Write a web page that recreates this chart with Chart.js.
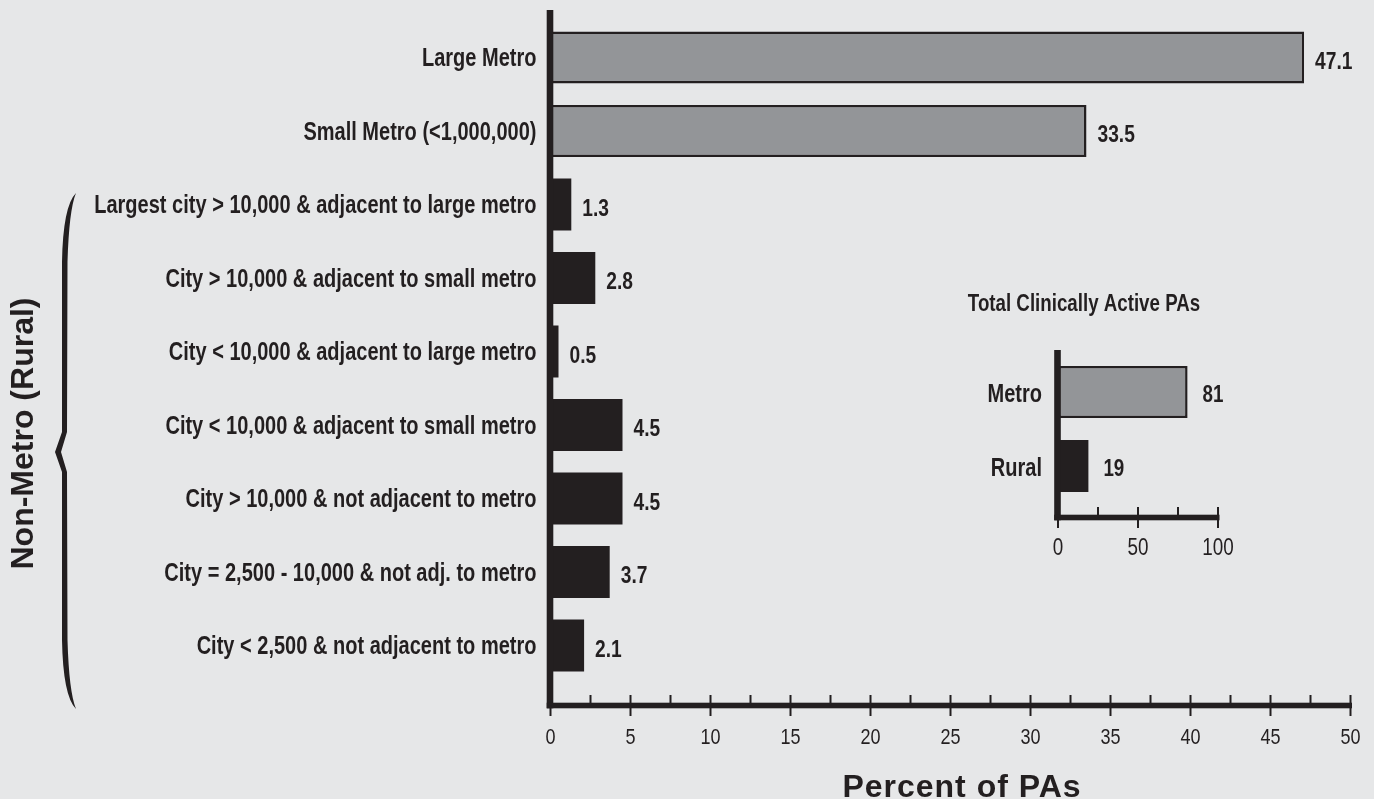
<!DOCTYPE html>
<html>
<head>
<meta charset="utf-8">
<title>Percent of PAs by location</title>
<script src="https://cdn.jsdelivr.net/npm/chart.js@4.4.1/dist/chart.umd.min.js"></script>
<style>
  html, body { margin: 0; padding: 0; background: #e6e7e8; overflow: hidden; }
  #wrap { position: relative; width: 1374px; height: 799px; }
  #mainChart { position: absolute; left: 0; top: 0; }
  #insetChart { position: absolute; left: 960px; top: 280px; }
</style>
</head>
<body>
<div id="wrap">
  <canvas id="mainChart" width="1374" height="799"></canvas>
  <canvas id="insetChart" width="280" height="290"></canvas>
</div>
<script>
// data
const categories = [
  'Large Metro',
  'Small Metro (<1,000,000)',
  'Largest city > 10,000 & adjacent to large metro',
  'City > 10,000 & adjacent to small metro',
  'City < 10,000 & adjacent to large metro',
  'City < 10,000 & adjacent to small metro',
  'City > 10,000 & not adjacent to metro',
  'City = 2,500 - 10,000 & not adj. to metro',
  'City < 2,500 & not adjacent to metro'
]
const percentOfPAs = [47.1, 33.5, 1.3, 2.8, 0.5, 4.5, 4.5, 3.7, 2.1]
const metroCount = 2 // first two rows are metro, the rest non-metro
const xTickMax = 50
const xTickStep = 5

const totalCategories = ['Metro', 'Rural']
const totalValues = [81, 19]
const totalTickMax = 100
const totalTickStep = 50

const ink = '#231f20'
const metroGray = '#939598'
const sans = "'Liberation Sans', Arial, sans-serif"

const barColors = percentOfPAs.map((v, i) => (i < metroCount ? metroGray : ink))
const barBorders = percentOfPAs.map((v, i) => (i < metroCount ? 2.5 : 0))

// no narrow font installed, so squeeze Liberation Sans like Arial Narrow
function narrowText (ctx, text, x, y, size, align, bold, squeeze = 0.82) {
  ctx.save()
  ctx.translate(x, y)
  ctx.scale(squeeze, 1)
  ctx.font = `${bold ? 'bold ' : ''}${size}px ${sans}`
  ctx.fillStyle = ink
  ctx.textAlign = align
  ctx.textBaseline = 'alphabetic'
  ctx.fillText(text, 0, 0)
  ctx.restore()
}

// category names, numbers at the bar ends and x tick labels
function labelLayer (o) {
  return {
    id: 'labelLayer',
    afterDatasetsDraw (chart) {
      const { ctx, chartArea: { left, bottom }, scales: { x, y } } = chart
      const ds = chart.data.datasets[0]
      chart.getDatasetMeta(0).data.forEach((bar, i) => {
        const rowY = y.getPixelForTick(i)
        narrowText(ctx, chart.data.labels[i], left - o.labelGap, rowY + o.labelDy, o.labelSize, 'right', true, 0.77)
        narrowText(ctx, String(ds.data[i]), bar.x + o.valueGap, rowY + o.valueDy, o.valueSize, 'left', true, 0.8)
      })
      x.ticks.forEach(t => {
        narrowText(ctx, String(t.value), x.getPixelForValue(t.value), bottom + o.tickDy, o.tickSize, 'center', false)
      })
    }
  }
}

// thick axis lines with tick marks, drawn a bit below the plot area
function axisFrame (o) {
  return {
    id: 'axisFrame',
    afterDraw (chart) {
      const { ctx, chartArea: { left, top, bottom }, scales: { x } } = chart
      const axisY = bottom + o.gap
      ctx.save()
      ctx.fillStyle = ink
      ctx.fillRect(left - 3.8, top - o.over, 6.6, axisY - top + o.over + 2.8)
      ctx.fillRect(left - 3.8, axisY - 2.8, x.right - left + 5.3, 5.6)
      ctx.strokeStyle = ink
      ctx.lineWidth = 2
      const ticks = x.ticks.map(t => t.value)
      ticks.forEach((v, i) => {
        const px = x.getPixelForValue(v)
        ctx.beginPath()
        ctx.moveTo(px, i === 0 ? axisY : axisY - 10.5)
        ctx.lineTo(px, axisY + 10.5)
        ctx.stroke()
        if (i < ticks.length - 1) {
          const mid = x.getPixelForValue((v + ticks[i + 1]) / 2)
          ctx.beginPath()
          ctx.moveTo(mid, axisY - 10.5)
          ctx.lineTo(mid, axisY)
          ctx.stroke()
        }
      })
      ctx.restore()
    }
  }
}

// brace, side title and axis title of the main chart
const decorations = {
  id: 'decorations',
  afterDraw (chart) {
    const { ctx } = chart
    ctx.save()
    ctx.fillStyle = ink
    ctx.beginPath()
    ctx.moveTo(76, 193)
    ctx.quadraticCurveTo(63, 206, 62, 262)
    ctx.lineTo(62, 432)
    ctx.lineTo(55, 452)
    ctx.lineTo(62, 472)
    ctx.lineTo(62, 640)
    ctx.quadraticCurveTo(63, 696, 76, 709)
    ctx.quadraticCurveTo(69, 692, 67.5, 640)
    ctx.lineTo(67, 472)
    ctx.lineTo(61, 452)
    ctx.lineTo(67, 432)
    ctx.lineTo(67.5, 262)
    ctx.quadraticCurveTo(69, 210, 76, 193)
    ctx.closePath()
    ctx.fill()

    ctx.font = `bold 32px ${sans}`
    ctx.textAlign = 'center'
    ctx.textBaseline = 'alphabetic'
    ctx.translate(33, 433.5)
    ctx.rotate(-Math.PI / 2)
    ctx.fillText('Non-Metro (Rural)', 0, 0)
    ctx.setTransform(1, 0, 0, 1, 0, 0)

    ctx.letterSpacing = '1px'
    ctx.fillText('Percent of PAs', 962, 797)
    ctx.restore()
  }
}

const hiddenGrid = { display: false, drawTicks: false }

new Chart(document.getElementById('mainChart'), {
  type: 'bar',
  plugins: [
    labelLayer({ labelGap: 14, labelDy: 8.5, labelSize: 26, valueGap: 11, valueDy: 11, valueSize: 24, tickDy: 61.75, tickSize: 22 }),
    axisFrame({ gap: 23.25, over: 10.75 }),
    decorations
  ],
  data: {
    labels: categories,
    datasets: [
      {
        data: percentOfPAs,
        backgroundColor: barColors,
        borderColor: ink,
        borderWidth: barBorders,
        borderSkipped: false,
        barPercentage: 0.71,
        categoryPercentage: 1
      }
    ]
  },
  options: {
    responsive: false,
    animation: false,
    indexAxis: 'y',
    layout: { padding: { top: 20.75, right: 23.5, left: 0, bottom: 0 } },
    plugins: { legend: { display: false }, tooltip: { enabled: false } },
    scales: {
      x: {
        min: 0,
        max: xTickMax,
        ticks: { stepSize: xTickStep, display: false },
        grid: hiddenGrid,
        border: { display: false },
        afterFit (scale) {
          scale.height = 799 - 682.25
          scale.paddingLeft = 0
          scale.paddingRight = 0
        }
      },
      y: {
        ticks: { display: false },
        grid: hiddenGrid,
        border: { display: false },
        afterFit (scale) {
          scale.width = 550.5
          scale.paddingTop = 0
          scale.paddingBottom = 0
        }
      }
    }
  }
})

// inset title
const insetTitle = {
  id: 'insetTitle',
  afterDraw (chart) {
    narrowText(chart.ctx, 'Total Clinically Active PAs', 124, 30.5, 24, 'center', true, 0.78)
  }
}

new Chart(document.getElementById('insetChart'), {
  type: 'bar',
  plugins: [
    labelLayer({ labelGap: 16, labelDy: 9.8, labelSize: 26, valueGap: 15, valueDy: 10.4, valueSize: 23.5, tickDy: 52, tickSize: 23 }),
    axisFrame({ gap: 14.5, over: 5 }),
    insetTitle
  ],
  data: {
    labels: totalCategories,
    datasets: [
      {
        data: totalValues,
        backgroundColor: [metroGray, ink],
        borderColor: ink,
        borderWidth: [2.5, 0],
        borderSkipped: false,
        barPercentage: 0.7,
        categoryPercentage: 1
      }
    ]
  },
  options: {
    responsive: false,
    animation: false,
    indexAxis: 'y',
    layout: { padding: { top: 75, right: 22, left: 0, bottom: 0 } },
    plugins: { legend: { display: false }, tooltip: { enabled: false } },
    scales: {
      x: {
        min: 0,
        max: totalTickMax,
        ticks: { stepSize: totalTickStep, display: false },
        grid: hiddenGrid,
        border: { display: false },
        afterFit (scale) {
          scale.height = 290 - 223
          scale.paddingLeft = 0
          scale.paddingRight = 0
        }
      },
      y: {
        ticks: { display: false },
        grid: hiddenGrid,
        border: { display: false },
        afterFit (scale) {
          scale.width = 98
          scale.paddingTop = 0
          scale.paddingBottom = 0
        }
      }
    }
  }
})
</script>
</body>
</html>
